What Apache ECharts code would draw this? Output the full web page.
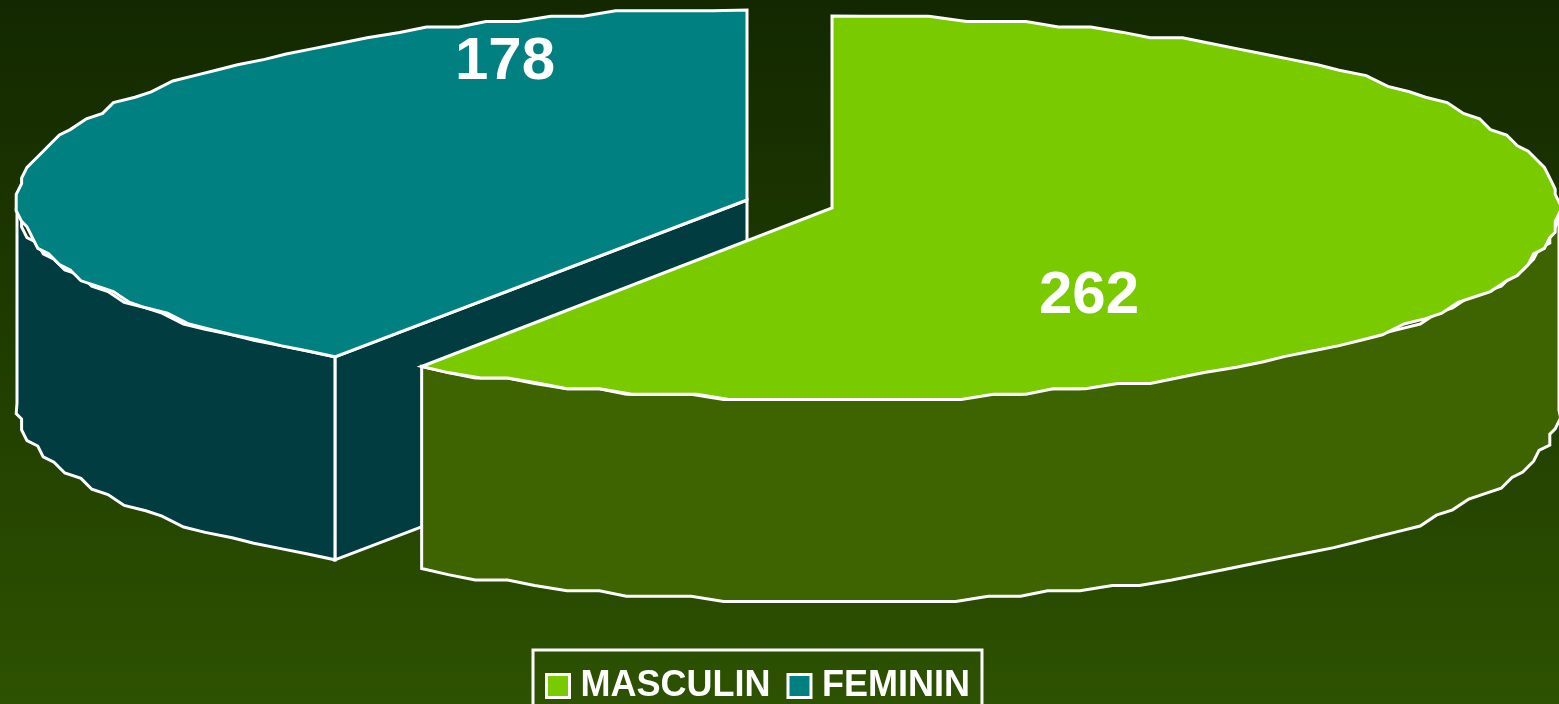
<!DOCTYPE html>
<html><head><meta charset="utf-8">
<style>html,body{margin:0;padding:0;background:#1d3a00}#c{width:1559px;height:704px}</style>
<script src="https://cdn.jsdelivr.net/npm/echarts@6/dist/echarts.min.js"></script>
</head><body><div id="c"></div>
<script>
const categories = ['MASCULIN', 'FEMININ'];
const seriesValues = [262, 178];
const topColors = ['#7aca00', '#008080'];
const wallColors = ['#3d6400', '#003c40'];
const total = seriesValues.reduce((a, b) => a + b, 0);

const shapes = [
  { cx: 832, cy: 208, rx: 727, ry: 192, depth: 202, label: [1089, 296] },
  { cx: 747, cy: 200, rx: 730, ry: 190, depth: 203, label: [505, 62] }
];
const GRID = 5.4, STEP = 2.6;
const q = v => Math.round(v / GRID) * GRID;

function arc(s, a0, a1) {
  const pts = [];
  const n = Math.max(1, Math.round((a1 - a0) / STEP));
  for (let i = 0; i <= n; i++) {
    const a = (a0 + (a1 - a0) * i / n) * Math.PI / 180;
    const x = s.cx + s.rx * Math.sin(a), y = s.cy - s.ry * Math.cos(a);
    pts.push(i === 0 || i === n ? [x, y] : [q(x), q(y)]);
  }
  return pts;
}
const strokeStyle = (fill) => ({ fill, stroke: '#fff', lineWidth: 3, lineJoin: 'miter' });

function sliceRender(index) {
  return function (params, api) {
    let start = 0;
    for (let i = 0; i < index; i++) start += seriesValues[i] / total * 360;
    const value = api.value(0);
    const end = start + value / total * 360;
    const s = shapes[index];
    const children = [];
    const drop = p => [p[0], p[1] + s.depth];
    // cut face turned to the viewer
    if (start > 90 && start < 270 && index > 0) {
      const a = arc(s, start, start)[0];
      const apex = [s.cx, s.cy];
      children.push({ type: 'polygon', shape: { points: [a, apex, drop(apex), drop(a)] }, style: strokeStyle(wallColors[index]) });
    }
    // outer wall, front half only
    const w0 = Math.max(start, 90), w1 = Math.min(end, 270);
    if (w1 > w0) {
      const rim = arc(s, w0, w1);
      children.push({ type: 'polygon', shape: { points: rim.concat(rim.slice().reverse().map(drop)) }, style: strokeStyle(wallColors[index]) });
    }
    // top face
    children.push({ type: 'polygon', shape: { points: [[s.cx, s.cy]].concat(arc(s, start, end)) }, style: strokeStyle(topColors[index]) });
    children.push({ type: 'text', x: s.label[0], y: s.label[1], style: {
      text: String(value), fill: '#fff', font: 'bold 60px "Liberation Sans", Arial, sans-serif', align: 'center', verticalAlign: 'middle' } });
    return { type: 'group', children };
  };
}

const chart = echarts.init(document.getElementById('c'), null, { renderer: 'canvas' });
chart.setOption({
  animation: false,
  backgroundColor: { type: 'linear', x: 0, y: 0, x2: 0, y2: 1, colorStops: [
    { offset: 0, color: '#132800' }, { offset: 1, color: '#2d5200' } ] },
  legend: {
    left: 533, top: 650,
    padding: [18, 12, 20, 12],
    itemGap: 16, itemWidth: 23, itemHeight: 23,
    borderColor: '#fff', borderWidth: 3, backgroundColor: 'transparent',
    icon: 'rect',
    itemStyle: { borderColor: '#fff', borderWidth: 3 },
    textStyle: { color: '#fff', fontSize: 36, fontWeight: 'bold', fontFamily: '"Liberation Sans", Arial, sans-serif', padding: [0, 0, 0, 6] },
    data: categories
  },
  // the feminine slice is painted first so the masculine one overlaps its cut face
  series: [1, 0].map(i => ({
    type: 'custom', name: categories[i], coordinateSystem: 'none',
    itemStyle: { color: topColors[i] }, silent: true, z: i === 1 ? 2 : 3,
    data: [[seriesValues[i]]],
    renderItem: sliceRender(i)
  }))
});
</script></body></html>
